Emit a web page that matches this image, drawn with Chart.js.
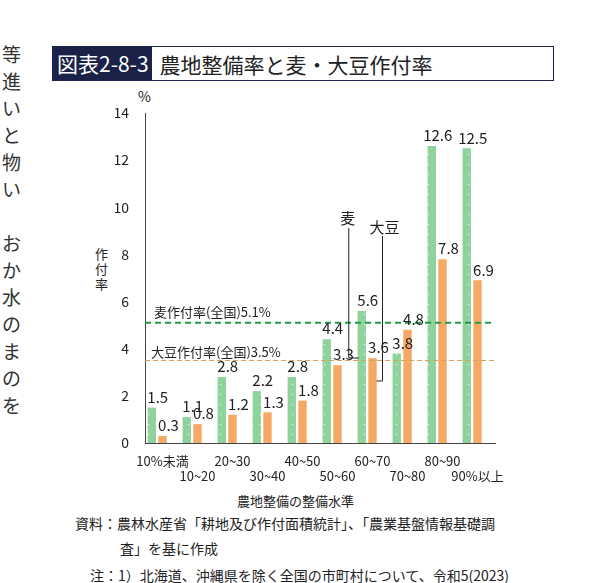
<!DOCTYPE html>
<html><head><meta charset="utf-8">
<script src="https://cdn.jsdelivr.net/npm/chart.js@4"></script>
<style>
body{margin:0;width:590px;height:583px;background:#fff;font-family:"Noto Sans CJK JP",sans-serif;color:#222;position:relative;overflow:hidden}
.abs{position:absolute;white-space:nowrap}
#side{left:2px;top:40px;font-size:19px;line-height:27px;width:20px;white-space:normal;color:#333}
#title{left:52px;top:46px;width:500px;height:33px;border:1px solid #1a2248;display:flex;align-items:center;font-size:21px}
#title span.b{background:#1a2248;color:#fff;height:33px;line-height:33px;padding:0 3px 0 4px}
#title span.t{padding-left:8px}
.note{font-size:14px}
</style></head><body>
<div id="side" class="abs">等進いと物い<br><br>おか水のまのを</div>
<div id="title" class="abs"><span class="b">図表2-8-3</span><span class="t">農地整備率と麦・大豆作付率</span></div>
<div class="abs" style="left:138px;top:86px;font-size:14px">%</div>
<div class="abs" style="left:95px;top:246px;font-size:13px;line-height:15px;width:14px;white-space:normal">作付率</div>
<div class="abs" style="left:237px;top:491px;font-size:13px">農地整備の整備水準</div>
<div class="abs note" style="left:75px;top:513px">資料：農林水産省「耕地及び作付面積統計」、「農業基盤情報基礎調</div>
<div class="abs note" style="left:120px;top:538px">査」を基に作成</div>
<div class="abs note" style="left:90px;top:565px">注：1）北海道、沖縄県を除く全国の市町村について、令和5(2023)</div>
<canvas id="c" class="abs" width="590" height="583" style="left:0;top:0;width:590px;height:583px"></canvas>
<script>
const categories = ["10%未満","10~20","20~30","30~40","40~50","50~60","60~70","70~80","80~90","90%以上"];
const wheat = [1.5,1.1,2.8,2.2,2.8,4.4,5.6,3.8,12.6,12.5];
const soy = [0.3,0.8,1.2,1.3,1.8,3.3,3.6,4.8,7.8,6.9];
const wheatNational = 5.1;
const soyNational = 3.5;
const yTicks = [0,2,4,6,8,10,12,14];

function greenPattern() {
  const p = document.createElement("canvas");
  p.width = 8; p.height = 10;
  const g = p.getContext("2d");
  g.fillStyle = "#8ed39b"; g.fillRect(0,0,8,10);
  g.fillStyle = "#e6f6e8"; g.fillRect(4,4,1.2,1.2);
  return g.createPattern(p, "repeat");
}

const labelsPlugin = {
  id: "labels",
  afterDatasetsDraw(chart) {
    const ctx = chart.ctx, y = chart.scales.y, a = chart.chartArea;
    ctx.save();
    ctx.lineWidth = 2; ctx.strokeStyle = "#1e9a4a"; ctx.setLineDash([6,4]);
    let py = y.getPixelForValue(wheatNational);
    ctx.beginPath(); ctx.moveTo(a.left, py); ctx.lineTo(a.right, py); ctx.stroke();
    ctx.lineWidth = 1; ctx.strokeStyle = "#d6a060"; ctx.setLineDash([5,3]);
    py = y.getPixelForValue(soyNational);
    ctx.beginPath(); ctx.moveTo(a.left, py); ctx.lineTo(a.right, py); ctx.stroke();
    ctx.setLineDash([]);
    ctx.fillStyle = "#222"; ctx.font = "13px 'Noto Sans CJK JP'"; ctx.textAlign = "left"; ctx.textBaseline = "bottom";
    ctx.fillText("麦作付率(全国)" + wheatNational + "%", a.left + 9, y.getPixelForValue(wheatNational) - 4);
    ctx.fillText("大豆作付率(全国)" + soyNational + "%", a.left + 6, y.getPixelForValue(soyNational) - 2);
    ctx.font = "15px 'Noto Sans CJK JP'"; ctx.textAlign = "center"; ctx.textBaseline = "bottom";
    [wheat, soy].forEach((arr, di) => {
      chart.getDatasetMeta(di).data.forEach((bar, i) => {
        ctx.fillText(arr[i].toFixed(1), bar.x + 6, bar.y - 3);
      });
    });
    const gb = chart.getDatasetMeta(0).data[6], ob = chart.getDatasetMeta(1).data[6];
    ctx.strokeStyle = "#222"; ctx.lineWidth = 1;
    ctx.beginPath(); ctx.moveTo(gb.x - 13, 228); ctx.lineTo(gb.x - 13, 358); ctx.lineTo(gb.x - 3, 358); ctx.stroke();
    ctx.beginPath(); ctx.moveTo(ob.x + 10, 236); ctx.lineTo(ob.x + 10, 381); ctx.lineTo(ob.x + 4, 381); ctx.stroke();
    ctx.fillText("麦", gb.x - 14, 226);
    ctx.fillText("大豆", ob.x + 12, 235);
    ctx.restore();
  }
};

new Chart(document.getElementById("c"), {
  type: "bar",
  data: {
    labels: categories.map((c, i) => i % 2 === 0 ? [c, ""] : ["", c]),
    datasets: [
      { data: wheat, backgroundColor: greenPattern() },
      { data: soy, backgroundColor: (c) => {
          const bar = c.element; const ch = c.chart;
          if (!bar || !bar.x) return "#f6a865";
          const g = ch.ctx.createLinearGradient(bar.x - 4, 0, bar.x + 4, 0);
          g.addColorStop(0, "#f4a060"); g.addColorStop(0.5, "#fdd0a0"); g.addColorStop(1, "#f4a060");
          return g;
        } },
      { data: categories.map(() => null) }
    ]
  },
  options: {
    responsive: false,
    animation: false,
    devicePixelRatio: 1,
    layout: { padding: { left: 115, right: 95, top: 113, bottom: 95 } },
    datasets: { bar: { categoryPercentage: 0.92, barPercentage: 0.78 } },
    plugins: { legend: { display: false }, tooltip: { enabled: false } },
    scales: {
      x: {
        grid: { display: false },
        border: { color: "#444" },
        ticks: { color: "#222", font: { size: 13, family: "Noto Sans CJK JP" }, maxRotation: 0, autoSkip: false, padding: 2 },
        afterFit(s) { s.height = 45; }
      },
      y: {
        min: 0, max: 14,
        afterBuildTicks(s) { s.ticks = yTicks.map(v => ({ value: v })); },
        grid: { display: false },
        border: { color: "#444" },
        ticks: { color: "#222", font: { size: 14, family: "Noto Sans CJK JP" }, padding: 8 },
        afterFit(s) { s.width = 30; }
      }
    }
  },
  plugins: [labelsPlugin]
});
</script>
</body></html>
